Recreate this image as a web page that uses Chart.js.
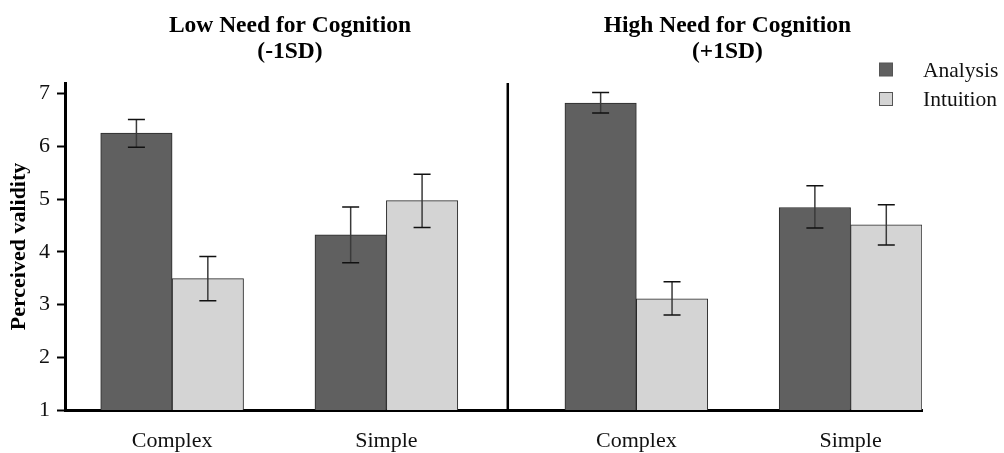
<!DOCTYPE html>
<html>
<head>
<meta charset="utf-8">
<script src="https://cdn.jsdelivr.net/npm/chart.js@4/dist/chart.umd.min.js"></script>
<style>
  html, body { margin: 0; padding: 0; background: #fff; }
  #wrap { width: 1004px; height: 453px; position: relative; }
</style>
</head>
<body>
<div id="wrap"><canvas id="c" width="1004" height="453"></canvas></div>
<script>
// ---- data ----
const panelTitles = [['Low Need for Cognition', '(-1SD)'], ['High Need for Cognition', '(+1SD)']];
const conditions = ['Complex', 'Simple', 'Complex', 'Simple'];
const seriesNames = ['Analysis', 'Intuition'];
const analysis = [6.25, 4.32, 6.82, 4.84];
const analysisLow = [5.98, 3.79, 6.63, 4.45];
const analysisHigh = [6.51, 4.85, 7.02, 5.25];
const intuition = [3.49, 4.97, 3.11, 4.51];
const intuitionLow = [3.07, 4.46, 2.80, 4.13];
const intuitionHigh = [3.91, 5.47, 3.43, 4.89];
const yTicks = [1, 2, 3, 4, 5, 6, 7];

// ---- layout along the x axis (in bar-half-width units) ----
const X_SPAN = 24;
const GROUP_AT = [3, 9, 16, 22];
const DIVIDER_AT = 12.4;
const TITLE_AT = [6.3, 18.55];

const SERIF = '"Liberation Serif", "Times New Roman", serif';
const colors = ['#606060', '#d4d4d4'];

const errLow = [analysisLow, intuitionLow];
const errHigh = [analysisHigh, intuitionHigh];

const errorBars = {
  id: 'errorBars',
  afterDatasetsDraw(chart) {
    const { ctx, scales: { x, y } } = chart;
    ctx.save();
    chart.data.datasets.forEach((ds, di) => {
      ds.data.forEach((pt, j) => {
        const px = x.getPixelForValue(pt.x);
        const yt = y.getPixelForValue(errHigh[di][j]);
        const yb = y.getPixelForValue(errLow[di][j]);
        const cap = 8.5;
        ctx.strokeStyle = '#3a3a3a';
        ctx.lineWidth = 1.5;
        ctx.beginPath();
        ctx.moveTo(px, yt); ctx.lineTo(px, yb);
        ctx.stroke();
        ctx.strokeStyle = '#111';
        ctx.beginPath();
        ctx.moveTo(px - cap, yt); ctx.lineTo(px + cap, yt);
        ctx.moveTo(px - cap, yb); ctx.lineTo(px + cap, yb);
        ctx.stroke();
      });
    });
    ctx.restore();
  }
};

const decorations = {
  id: 'decorations',
  afterDraw(chart) {
    const { ctx, scales: { x, y }, chartArea } = chart;
    ctx.save();
    // panel divider
    const dx = x.getPixelForValue(DIVIDER_AT);
    ctx.strokeStyle = '#000';
    ctx.lineWidth = 2.5;
    ctx.beginPath();
    ctx.moveTo(dx, chartArea.top);
    ctx.lineTo(dx, chartArea.bottom);
    ctx.stroke();

    // panel titles
    ctx.fillStyle = '#000';
    ctx.font = 'bold 23.5px ' + SERIF;
    ctx.textAlign = 'center';
    ctx.textBaseline = 'alphabetic';
    panelTitles.forEach((lines, i) => {
      const tx = x.getPixelForValue(TITLE_AT[i]);
      ctx.fillText(lines[0], tx, 32);
      ctx.fillText(lines[1], tx, 58);
    });

    // legend
    ctx.font = '21.5px ' + SERIF;
    ctx.textAlign = 'left';
    ctx.textBaseline = 'middle';
    seriesNames.forEach((name, i) => {
      const cy = 69.5 + i * 29.5;
      ctx.fillStyle = colors[i];
      ctx.fillRect(879.5, cy - 6.5, 13, 13);
      ctx.strokeStyle = '#555';
      ctx.lineWidth = 1;
      ctx.strokeRect(879.5, cy - 6.5, 13, 13);
      ctx.fillStyle = '#111';
      ctx.fillText(name, 923, cy + 1.5);
    });
    ctx.restore();
  }
};

new Chart(document.getElementById('c'), {
  type: 'bar',
  data: {
    datasets: [
      {
        label: seriesNames[0],
        data: conditions.map((c, i) => ({ x: GROUP_AT[i] - 1, y: analysis[i] })),
        backgroundColor: colors[0],
        borderColor: '#2a2a2a',
        borderWidth: 1,
        borderSkipped: 'start'
      },
      {
        label: seriesNames[1],
        data: conditions.map((c, i) => ({ x: GROUP_AT[i] + 1, y: intuition[i] })),
        backgroundColor: colors[1],
        borderColor: '#2a2a2a',
        borderWidth: 1,
        borderSkipped: 'start'
      }
    ]
  },
  options: {
    responsive: false,
    animation: false,
    grouped: false,
    barPercentage: 1,
    categoryPercentage: 1,
    layout: { padding: { top: 83, right: 82, bottom: 0, left: 0 } },
    plugins: { legend: { display: false }, tooltip: { enabled: false }, title: { display: false } },
    scales: {
      x: {
        type: 'linear',
        min: 0,
        max: X_SPAN,
        offset: false,
        grid: { drawOnChartArea: false, drawTicks: false, offset: false },
        border: { display: true, color: '#000', width: 3 },
        afterBuildTicks(scale) {
          scale.ticks = GROUP_AT.map(v => ({ value: v }));
        },
        afterFit(scale) { scale.height = 43; },
        ticks: {
          padding: 18,
          color: '#111',
          font: { family: SERIF, size: 22 },
          maxRotation: 0,
          autoSkip: false,
          callback(value) {
            const i = GROUP_AT.indexOf(value);
            return i >= 0 ? conditions[i] : '';
          }
        }
      },
      y: {
        type: 'linear',
        min: 1,
        max: 7.2,
        grid: { drawOnChartArea: false, drawTicks: true, tickLength: 8, tickWidth: 2, tickColor: '#000' },
        border: { display: true, color: '#000', width: 3 },
        afterBuildTicks(scale) {
          scale.ticks = yTicks.map(v => ({ value: v }));
        },
        afterFit(scale) { scale.width = 65; },
        ticks: {
          padding: 7,
          color: '#111',
          font: { family: SERIF, size: 22 }
        },
        title: {
          display: true,
          text: 'Perceived validity',
          color: '#000',
          font: { family: SERIF, size: 22, weight: 'bold' },
          padding: { top: 6, bottom: 0 }
        }
      }
    }
  },
  plugins: [errorBars, decorations]
});
</script>
</body>
</html>
